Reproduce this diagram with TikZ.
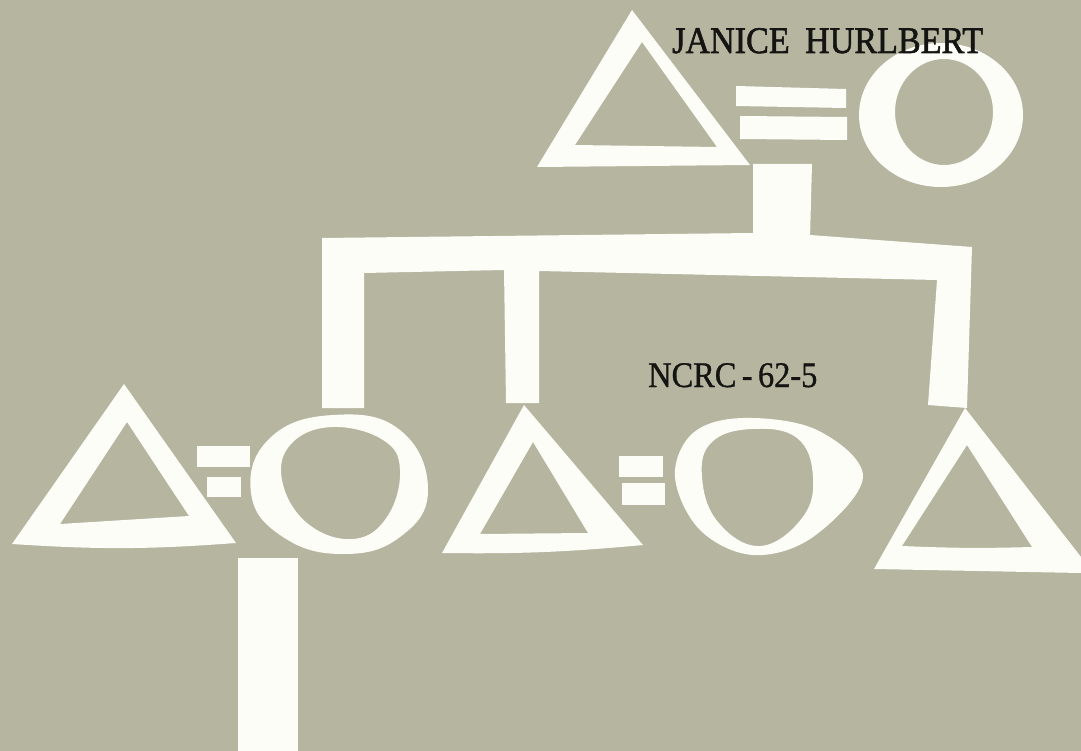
\documentclass[tikz,border=0pt]{standalone}
\usepackage{fontspec}
\setmainfont{Liberation Serif}
\newfontfamily\heavyserif[FakeBold=1.6]{Liberation Serif}
\newfontfamily\midserif[FakeBold=0.9]{Liberation Serif}
\definecolor{paper}{RGB}{181,181,160}
\definecolor{cut}{RGB}{253,253,248}
\definecolor{ink}{RGB}{20,20,18}
\tikzset{
  cutout/.style={fill=cut, even odd rule},
  label text/.style={anchor=base west, inner sep=0pt, text=ink}
}
\begin{document}
\begin{tikzpicture}[x=1pt,y=-1pt]
\fill[paper] (0,0) rectangle (1081,751);
\useasboundingbox (0,0) rectangle (1081,751);
\clip (0,0) rectangle (1081,751);

% ---------- top couple ----------
\coordinate (mother) at (941,115);
\fill[cutout] (632,10) -- (750,165) -- (537,167) -- cycle
              (642,42) -- (717,147) -- (575,145) -- cycle;
\fill[cut] (736,86) -- (846,89) -- (846,108) -- (736,106) -- cycle;
\fill[cut] (740,116) -- (847,117) -- (847,140) -- (740,139) -- cycle;
\fill[cutout] (mother) ellipse [x radius=82, y radius=72]
              (944,112) ellipse [x radius=49, y radius=53];
% stem
\fill[cut] (753,164) -- (812,164) -- (810,238) -- (753,238) -- cycle;
% sibship bar with three legs
\fill[cut] (322,238) -- (753,233) -- (810,235) -- (972,247) -- (967,408) -- (928,405)
  -- (937,280) -- (539,271) -- (539,403) -- (506,403) -- (504,270)
  -- (364,273) -- (364,408) -- (322,408) -- cycle;

% ---------- left couple ----------
\fill[cutout] (124,384) -- (236,543) to[bend left=4] (12,544) -- cycle
              (127,422) -- (189,516) -- (60,524) -- cycle;
\fill[cut] (197,446) -- (250,446) -- (250,467) -- (197,467) -- cycle;
\fill[cut] (207,477) -- (241,477) -- (241,497) -- (207,497) -- cycle;
\fill[cutout] plot[smooth cycle, tension=0.75] coordinates {
    (251,493) (270,438) (333,415) (400,430) (428,490) (400,537) (343,554) (283,537)}
  plot[smooth cycle, tension=0.7] coordinates {
    (282,480) (292,443) (333,427) (383,440) (400,470) (387,517) (353,539) (307,523)};
% descendant line
\fill[cut] (238,558) -- (298,558) -- (298,751) -- (238,751) -- cycle;

% ---------- middle couple ----------
\fill[cutout] (524,405) -- (643,545) to[bend left=3] (442,553) -- cycle
              (533,442) -- (588,533) -- (480,534) -- cycle;
\fill[cut] (619,456) -- (663,456) -- (663,477) -- (619,477) -- cycle;
\fill[cut] (622,483) -- (665,483) -- (665,505) -- (622,505) -- cycle;
\fill[cutout] plot[smooth cycle, tension=0.6] coordinates {
    (675,477) (693,433) (743,418) (817,430) (863,477) (813,537) (753,555) (700,530)}
  plot[smooth cycle, tension=0.7] coordinates {
    (702,477) (712,442) (752,429) (797,438) (813,477) (802,518) (760,546) (718,522)};

% ---------- right son ----------
\fill[cutout] (965,408) -- (1081,557) -- (1081,573) -- (874,569) -- cycle
              (967,445) -- (1032,547) to[bend left=2] (902,546) -- cycle;

% ---------- texts ----------
\node[label text, font=\heavyserif\fontsize{37.5}{40}\selectfont] (name) at (672,53)
  {\scalebox{0.91}[1]{JANICE\hspace{0.45em}HURLBERT}};
\node[label text, font=\midserif\fontsize{36}{40}\selectfont] (code) at (648,387)
  {\scalebox{0.9}[1]{NCRC\,-\,62-5}};
\end{tikzpicture}
\end{document}
